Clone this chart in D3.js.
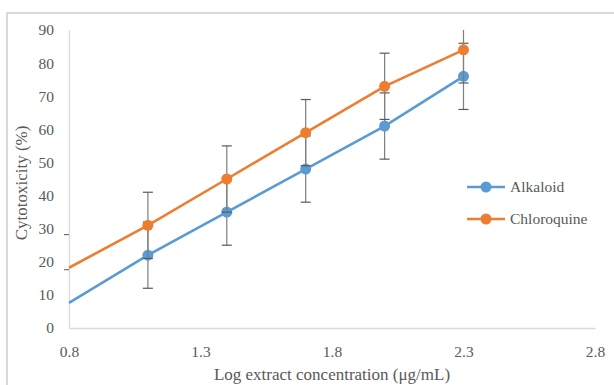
<!DOCTYPE html>
<html>
<head>
<meta charset="utf-8">
<script src="https://cdn.jsdelivr.net/npm/d3@7"></script>
<style>
  body { margin: 0; background: #fff; }
  svg { display: block; }
</style>
</head>
<body>
<div id="chart"></div>
<script>
// log concentration values
const logConc = [0.8, 1.1, 1.4, 1.7, 2.0, 2.3];
const alkaloid = [7.6, 22, 35, 48, 61, 76];
const chloroquine = [18.2, 31, 45, 59, 73, 84];
const errAlkaloid = [10, 10, 10, 10, 10, 10];
const errChloroquine = [10, 10, 10, 10, 10, 10];
const xTicks = [0.8, 1.3, 1.8, 2.3, 2.8];
const yTicks = [0, 10, 20, 30, 40, 50, 60, 70, 80, 90];

const series = [
  { name: 'Alkaloid', values: alkaloid, err: errAlkaloid, color: '#5B9BD5' },
  { name: 'Chloroquine', values: chloroquine, err: errChloroquine, color: '#ED7D31' }
];

const width = 614, height = 385;
const margin = { top: 30, right: 19, bottom: 57, left: 69 };

const svg = d3.select('#chart').append('svg')
  .attr('width', width)
  .attr('height', height);

// outer frame
svg.append('rect')
  .attr('x', 7).attr('y', 13)
  .attr('width', 620).attr('height', 390)
  .attr('fill', 'none')
  .attr('stroke', '#d9d9d9')
  .attr('stroke-width', 2);

const x = d3.scaleLinear().domain([0.8, 2.8]).range([margin.left, width - margin.right]);
const y = d3.scaleLinear().domain([0, 90]).range([height - margin.bottom, margin.top]);

const font = '"Liberation Serif", "Times New Roman", serif';

// axes
const xAxis = svg.append('g')
  .attr('transform', `translate(0,${y(0)})`)
  .call(d3.axisBottom(x).tickValues(xTicks).tickFormat(d3.format('.1f')).tickSize(0).tickPadding(18));
xAxis.select('.domain').attr('stroke', '#d9d9d9').attr('stroke-width', 1.3);
xAxis.selectAll('text').attr('font-family', font).attr('font-size', 15.5).attr('fill', '#595959');

const yAxis = svg.append('g')
  .attr('transform', `translate(${x(0.8)},0)`)
  .call(d3.axisLeft(y).tickValues(yTicks).tickSize(0).tickPadding(15));
yAxis.select('.domain').attr('stroke', '#d9d9d9').attr('stroke-width', 1.3);
yAxis.selectAll('text').attr('font-family', font).attr('font-size', 15.5).attr('fill', '#595959');

// axis titles
svg.append('text')
  .attr('x', (x(0.8) + x(2.8)) / 2)
  .attr('y', 380)
  .attr('text-anchor', 'middle')
  .attr('font-family', font)
  .attr('font-size', 17)
  .attr('fill', '#595959')
  .text('Log extract concentration (μg/mL)');

svg.append('text')
  .attr('transform', `translate(27,${(y(0) + y(90)) / 2 + 4}) rotate(-90)`)
  .attr('text-anchor', 'middle')
  .attr('font-family', font)
  .attr('font-size', 17)
  .attr('fill', '#595959')
  .text('Cytotoxicity (%)');

const line = d3.line()
  .x(d => x(d[0]))
  .y(d => y(d[1]));

const capW = 5;

series.forEach(s => {
  const pts = logConc.map((c, i) => [c, s.values[i], s.err[i]]);

  // error bars
  const eb = svg.append('g');
  pts.forEach((p, i) => {
    const cx = x(p[0]);
    const hi = y(Math.min(p[1] + p[2], 90));
    const lo = y(Math.max(p[1] - p[2], 0));
    if (i === 0) {
      // first point sits on the axis: only the left half of the cap shows
      eb.append('line')
        .attr('x1', cx - capW).attr('x2', cx)
        .attr('y1', hi).attr('y2', hi)
        .attr('stroke', '#595959').attr('stroke-width', 1);
      return;
    }
    eb.append('line')
      .attr('x1', cx).attr('x2', cx)
      .attr('y1', hi).attr('y2', lo)
      .attr('stroke', '#7f7f7f').attr('stroke-width', 1.2);
    if (p[1] + p[2] <= 90) {
      eb.append('line')
        .attr('x1', cx - capW).attr('x2', cx + capW)
        .attr('y1', hi).attr('y2', hi)
        .attr('stroke', '#595959').attr('stroke-width', 1.2);
    }
    eb.append('line')
      .attr('x1', cx - capW).attr('x2', cx + capW)
      .attr('y1', lo).attr('y2', lo)
      .attr('stroke', '#595959').attr('stroke-width', 1.2);
  });

  svg.append('path')
    .datum(pts)
    .attr('d', line)
    .attr('fill', 'none')
    .attr('stroke', s.color)
    .attr('stroke-width', 2.6);

  svg.selectAll(null)
    .data(pts.slice(1))
    .enter()
    .append('circle')
    .attr('cx', d => x(d[0]))
    .attr('cy', d => y(d[1]))
    .attr('r', 5.5)
    .attr('fill', s.color);
});

// legend
const legend = svg.append('g').attr('transform', 'translate(467,187)');
const items = legend.selectAll('g')
  .data(series)
  .enter()
  .append('g')
  .attr('transform', (d, i) => `translate(0,${i * 32})`);

items.append('line')
  .attr('x1', 0).attr('x2', 38)
  .attr('stroke', d => d.color)
  .attr('stroke-width', 2.6);
items.append('circle')
  .attr('cx', 19)
  .attr('r', 5.5)
  .attr('fill', d => d.color);
items.append('text')
  .attr('x', 43)
  .attr('y', 5)
  .attr('font-family', font)
  .attr('font-size', 15.5)
  .attr('fill', '#595959')
  .text(d => d.name);
</script>
</body>
</html>
